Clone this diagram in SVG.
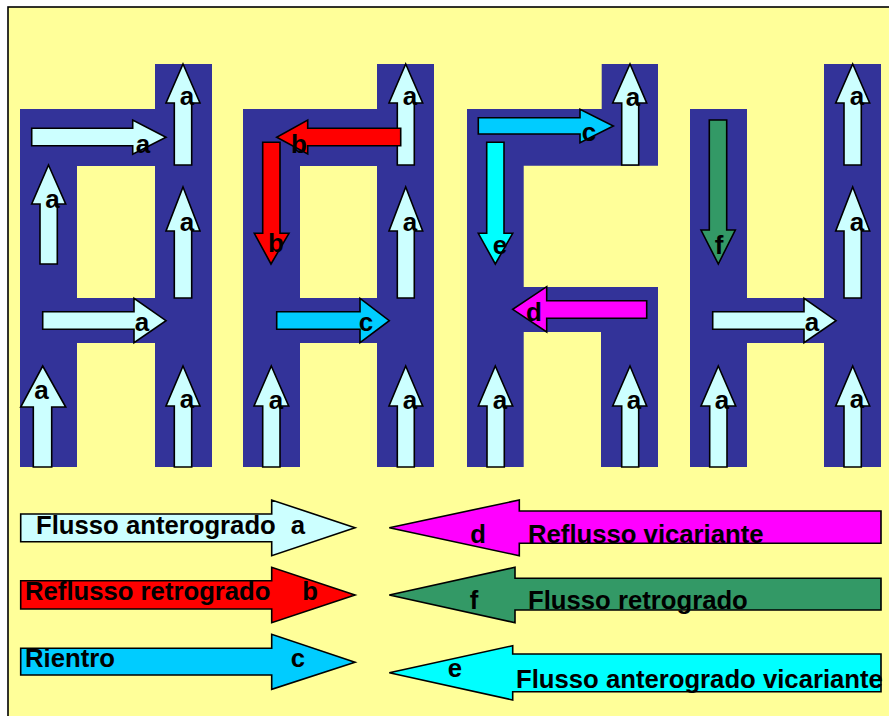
<svg xmlns="http://www.w3.org/2000/svg" width="889" height="716" viewBox="0 0 889 716">
<style>
.vessel{fill:#333399;fill-rule:evenodd}
.ar{stroke:#000;stroke-width:1.6;stroke-linejoin:miter}
.a{fill:#CCFFFF}
.b{fill:#FF0000}
.c{fill:#00CCFF}
.d{fill:#FF00FF}
.e{fill:#00FFFF}
.f{fill:#339966}
text{font-family:"Liberation Sans",Arial,sans-serif;font-weight:bold;font-size:26px;fill:#000}
.m{text-anchor:middle}
.lg{font-size:25.7px}
</style>
<rect x="0" y="0" width="889" height="716" fill="#FFFFFF"/>
<rect x="8" y="7" width="900" height="730" fill="#FFFF99" stroke="#000" stroke-width="1.6"/>

<g id="panel1">
<path class="vessel" d="M20,109 H155 V64 H212 V467 H155 V343 H77 V467 H20 Z M77,166 H155 V298 H77 Z"/>
<path class="ar a" d="M183,64 L200,103 L191.7,103 L191.7,165 L174.3,165 L174.3,103 L166,103 Z"/>
<text class="m" x="187" y="105">a</text>
<path class="ar a" d="M183,187 L200,231 L191.7,231 L191.7,298 L174.3,298 L174.3,231 L166,231 Z"/>
<text class="m" x="187" y="231">a</text>
<path class="ar a" d="M183,366 L200,406 L191.7,406 L191.7,467 L174.3,467 L174.3,406 L166,406 Z"/>
<text class="m" x="187" y="408">a</text>
<path class="ar a" d="M48.5,165 L65.7,204 L57.3,204 L57.3,264 L40,264 L40,204 L31.7,204 Z"/>
<text class="m" x="52.5" y="208">a</text>
<path class="ar a" d="M42.7,366 L65.7,407 L51.7,407 L51.7,467 L33.3,467 L33.3,407 L20.7,407 Z"/>
<text class="m" x="41.5" y="399">a</text>
<path class="ar a" d="M31.7,128.3 L132.7,128.3 L132.7,120 L166,137.3 L132.7,154.3 L132.7,145.7 L31.7,145.7 Z"/>
<text class="m" x="143" y="153">a</text>
<path class="ar a" d="M42.7,311.7 L134,311.7 L134,298.3 L166,320.7 L134,342.7 L134,329.3 L42.7,329.3 Z"/>
<text class="m" x="142" y="331">a</text>
</g>

<g id="panel2">
<path class="vessel" d="M243,109 H377 V64 H434 V467 H377 V343 H300 V467 H243 Z M300,166 H377 V298 H300 Z"/>
<path class="ar a" d="M405.7,64 L422.7,103 L414.3,103 L414.3,165 L397.3,165 L397.3,103 L389,103 Z"/>
<text class="m" x="410" y="105">a</text>
<path class="ar a" d="M405.7,187 L422.7,231 L414.3,231 L414.3,298 L397.3,298 L397.3,231 L389,231 Z"/>
<text class="m" x="410" y="231">a</text>
<path class="ar a" d="M405.7,366 L422.7,406 L414.3,406 L414.3,467 L397.3,467 L397.3,406 L389,406 Z"/>
<text class="m" x="410" y="409">a</text>
<path class="ar a" d="M271.3,366 L288.7,406 L280,406 L280,467 L262.7,467 L262.7,406 L254,406 Z"/>
<text class="m" x="276" y="409">a</text>
<path class="ar b" d="M400.7,128.3 L307.7,128.3 L307.7,120 L276.7,137.3 L307.7,154 L307.7,145.7 L400.7,145.7 Z"/>
<text class="m" x="299" y="153">b</text>
<path class="ar b" d="M262.7,142.3 L280,142.3 L280,233.3 L289,233.3 L271,264 L254.3,233.3 L262.7,233.3 Z"/>
<text class="m" x="276" y="252">b</text>
<path class="ar c" d="M276.7,311.7 L360,311.7 L360,298.3 L389.3,320.7 L360,342.7 L360,329.3 L276.7,329.3 Z"/>
<text class="m" x="366" y="331">c</text>
</g>

<g id="panel3">
<path class="vessel" d="M467,109 H601.7 V64 H658 V165.7 H523.7 V287 H658 V467 H601 V332 H523.7 V467 H467 Z"/>
<path class="ar a" d="M630,64 L646.7,103 L638.7,103 L638.7,165 L621.7,165 L621.7,103 L612.7,103 Z"/>
<text class="m" x="633" y="106">a</text>
<path class="ar c" d="M478.3,117.7 L580,117.7 L580,109.3 L613.3,126 L580,142.7 L580,134 L478.3,134 Z"/>
<text class="m" x="589" y="141">c</text>
<path class="ar e" d="M486.7,142.3 L504,142.3 L504,233.3 L512.7,233.3 L495.3,264 L478.3,233.3 L486.7,233.3 Z"/>
<text class="m" x="500" y="254">e</text>
<path class="ar d" d="M646.7,300.7 L546.7,300.7 L546.7,286.7 L512.7,309.3 L546.7,332 L546.7,318.3 L646.7,318.3 Z"/>
<text class="m" x="534" y="321">d</text>
<path class="ar a" d="M495.3,366 L512.7,406 L504.3,406 L504.3,467 L487,467 L487,406 L478.3,406 Z"/>
<text class="m" x="500" y="409">a</text>
<path class="ar a" d="M630,366 L646.7,406 L638.7,406 L638.7,467 L621.7,467 L621.7,406 L612.7,406 Z"/>
<text class="m" x="634" y="409">a</text>
</g>

<g id="panel4">
<path class="vessel" d="M690,109 H747 V298 H824 V64 H881 V467 H824 V343 H747 V467 H690 Z"/>
<path class="ar f" d="M709.3,120 L726.7,120 L726.7,230 L735.3,230 L718.3,264 L701,230 L709.3,230 Z"/>
<text class="m" x="719" y="254">f</text>
<path class="ar a" d="M852.7,64 L869.7,103 L861.3,103 L861.3,165 L844,165 L844,103 L835.7,103 Z"/>
<text class="m" x="857" y="105">a</text>
<path class="ar a" d="M852.7,187 L869.7,231 L861.3,231 L861.3,298 L844,298 L844,231 L835.7,231 Z"/>
<text class="m" x="857" y="231">a</text>
<path class="ar a" d="M852.7,366 L869.7,406 L861.3,406 L861.3,467 L844,467 L844,406 L835.7,406 Z"/>
<text class="m" x="857" y="408">a</text>
<path class="ar a" d="M718.3,366 L735.7,406 L727,406 L727,467 L709.7,467 L709.7,406 L701,406 Z"/>
<text class="m" x="722" y="409">a</text>
<path class="ar a" d="M712.7,311.7 L804,311.7 L804,298.3 L836,320.7 L804,342.7 L804,329.3 L712.7,329.3 Z"/>
<text class="m" x="812" y="331">a</text>
</g>

<g id="legend-a">
<path class="ar a" d="M20.7,514 H271.7 V500 L355,527.7 L271.7,555.7 V541.7 H20.7 Z"/>
<text class="lg" x="36" y="534">Flusso anterogrado</text>
<text class="m lg" x="298" y="534">a</text>
</g>
<g id="legend-b">
<path class="ar b" d="M20.7,580.7 H271.7 V567.3 L355,595 L271.7,622.7 V609 H20.7 Z"/>
<text class="lg" x="25" y="600">Reflusso retrogrado</text>
<text class="m lg" x="310" y="600">b</text>
</g>
<g id="legend-c">
<path class="ar c" d="M20.7,648.3 H271.7 V634.3 L355,662.3 L271.7,689.3 V675 H20.7 Z"/>
<text class="lg" x="25" y="667">Rientro</text>
<text class="m lg" x="298" y="667">c</text>
</g>
<g id="legend-d">
<path class="ar d" d="M389.3,527.7 L519.3,500 V511 H881 V543.3 H519.3 V555.7 Z"/>
<text class="m lg" x="478" y="543">d</text>
<text class="lg" x="528" y="543">Reflusso vicariante</text>
</g>
<g id="legend-f">
<path class="ar f" d="M389.3,595 L515,567.3 V578.3 H881 V610 H515 V622.7 Z"/>
<text class="m lg" x="474" y="609">f</text>
<text class="lg" x="528" y="609">Flusso retrogrado</text>
</g>
<g id="legend-e">
<path class="ar e" d="M389.3,672.7 L512.7,645.7 V654 H881 V691.7 H512.7 V700 Z"/>
<text class="m lg" x="455" y="677">e</text>
<text class="lg" x="516" y="688">Flusso anterogrado vicariante</text>
</g>
</svg>
